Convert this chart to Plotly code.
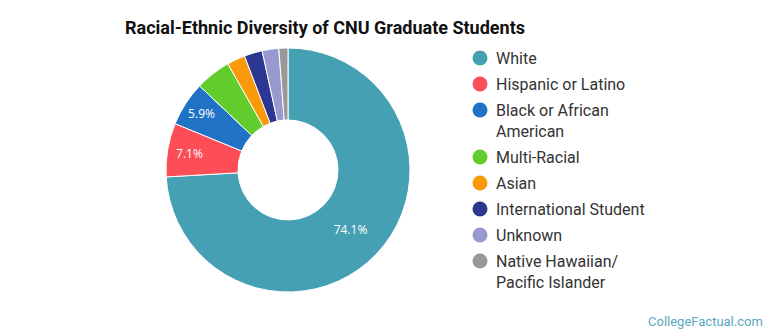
import plotly.graph_objects as go

labels = ["White", "Hispanic or Latino", "Black or African American", "Multi-Racial",
          "Asian", "International Student", "Unknown", "Native Hawaiian/ Pacific Islander"]
legend_lines = ["White", "Hispanic or Latino", "Black or African<br>American", "Multi-Racial",
                "Asian", "International Student", "Unknown", "Native Hawaiian/<br>Pacific Islander"]
values = [74.1, 7.1, 5.9, 4.7, 2.4, 2.4, 2.2, 1.2]
colors = ["#46a0b4", "#fd4e58", "#1f72c4", "#62cc2c", "#fa9a0a", "#2b3791", "#9999d0", "#999999"]

W, H = 770, 335
texts = [f"{v:.1f}%" if v >= 5 else "" for v in values]

fig = go.Figure(go.Pie(
    labels=labels, values=values, sort=False, direction="clockwise", rotation=0,
    hole=0.41, marker=dict(colors=colors, line=dict(color="white", width=1)),
    text=texts, textinfo="text", textposition="inside", insidetextorientation="horizontal",
    textfont=dict(family="Open Sans, Roboto, sans-serif", size=12, color="white"),
    hoverinfo="label+percent", showlegend=False,
    domain=dict(x=[(288 - 122) / W, (288 + 122) / W], y=[(165 - 122) / H, (165 + 122) / H]),
))

shapes = []
annotations = []
row_y = [58, 84, 110, 157, 183, 209, 235, 261]
for i, (lab, col) in enumerate(zip(legend_lines, colors)):
    y = row_y[i]
    shapes.append(dict(type="circle", xref="paper", yref="paper",
                       x0=(480 - 7.5) / W, x1=(480 + 7.5) / W,
                       y0=1 - (y + 7.5) / H, y1=1 - (y - 7.5) / H,
                       fillcolor=col, line=dict(width=0)))
    annotations.append(dict(text=lab, xref="paper", yref="paper", x=494 / W, y=1 - (y - 11) / H,
                            xanchor="left", yanchor="top", showarrow=False, align="left",
                            font=dict(family="Roboto, sans-serif", size=16, color="#333333")))

annotations.append(dict(text="<b>Racial-Ethnic Diversity of CNU Graduate Students</b>",
                        xref="paper", yref="paper", x=123 / W, y=1 - 27 / H,
                        xanchor="left", yanchor="middle", showarrow=False,
                        font=dict(family="Roboto, sans-serif", size=18, color="#111111")))
annotations.append(dict(text="CollegeFactual.com", xref="paper", yref="paper", x=765 / W, y=1 - 321 / H,
                        xanchor="right", yanchor="middle", showarrow=False,
                        font=dict(family="Roboto, sans-serif", size=13, color="#5aa7bd")))

fig.update_layout(
    width=W, height=H, margin=dict(l=0, r=0, t=0, b=0),
    paper_bgcolor="white", plot_bgcolor="white",
    shapes=shapes, annotations=annotations,
    uniformtext=dict(minsize=12, mode="show"),
)
fig.write_html("out.html")
